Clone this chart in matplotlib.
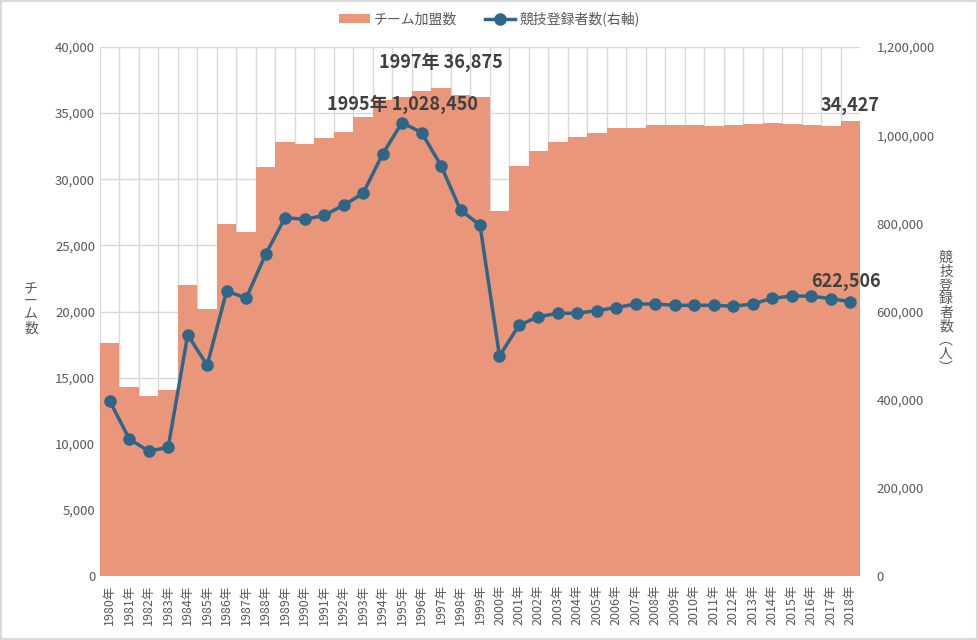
import numpy as np
import matplotlib
matplotlib.use("Agg")
import matplotlib.pyplot as plt
from matplotlib.patches import Rectangle
from matplotlib.ticker import FuncFormatter, MultipleLocator

plt.rcParams['font.family'] = ['Noto Sans CJK JP', 'DejaVu Sans']

# データ
years = list(range(1980, 2019))
labels = ["%d年" % y for y in years]
teams = [17600, 14300, 13600, 14100, 22000, 20200, 26600, 26000, 30900, 32800,
         32700, 33100, 33600, 34700, 36000, 36200, 36700, 36875, 36400, 36200,
         27600, 31000, 32100, 32800, 33200, 33500, 33900, 33900, 34100, 34100,
         34100, 34000, 34100, 34200, 34250, 34200, 34100, 34000, 34427]
players = [397000, 311000, 283000, 292000, 547000, 478000, 647000, 630000, 730000, 813000,
           809000, 818000, 841000, 868000, 957000, 1028450, 1006000, 931000, 830000, 796000,
           499000, 569000, 588000, 596000, 596000, 602000, 609000, 617000, 617000, 614000,
           614000, 614000, 612000, 617000, 630000, 635000, 635000, 629000, 622506]

bar_c = '#EA967A'
line_c = '#2F6688'
txt_c = '#595959'
grid_c = '#D9D9D9'

fig = plt.figure(figsize=(9.79, 6.4), dpi=100)
ax = fig.add_axes([100/979, 64/640, 760/979, 529/640])
ax2 = ax.twinx()

x = np.arange(len(years))
ax.bar(x, teams, width=1.0, color=bar_c, zorder=2, label='チーム加盟数')
ax.set_xlim(-0.5, len(years) - 0.5)
ax.set_ylim(0, 40000)
ax.yaxis.set_major_locator(MultipleLocator(5000))
ax.yaxis.set_major_formatter(FuncFormatter(lambda v, p: format(int(v), ',')))
# 縦のグリッドは区切り位置
ax.set_xticks(x - 0.5, minor=True)
ax.set_xticks(x)
ax.set_xticklabels(labels, rotation=90, fontsize=9, color=txt_c)
ax.grid(axis='y', color=grid_c, lw=1, zorder=0)
ax.grid(axis='x', which='minor', color=grid_c, lw=1, zorder=0)
ax.set_axisbelow(True)
ax.tick_params(axis='both', which='both', length=0, labelsize=9.5, colors=txt_c)
ax.tick_params(axis='x', labelsize=9, pad=6)
for s in ax.spines.values():
    s.set_visible(False)

ax2.plot(x, players, color=line_c, lw=2.5, marker='o', ms=8, zorder=3, label='競技登録者数(右軸)')
ax2.set_ylim(0, 1200000)
ax2.yaxis.set_major_locator(MultipleLocator(200000))
ax2.yaxis.set_major_formatter(FuncFormatter(lambda v, p: format(int(v), ',')))
ax2.tick_params(axis='y', length=0, labelsize=9.5, colors=txt_c, pad=12)
for s in ax2.spines.values():
    s.set_visible(False)

# 軸ラベル（縦書き）
fig.text(31/979, 1 - 308/640, '\n'.join('チーム数'), ha='center', va='center',
         fontsize=10, color=txt_c, linespacing=0.95)
fig.text(946/979, 1 - 313/640, '\n'.join(['競', '技', '登', '録', '者', '数', '︵', '人', '︶']),
         ha='center', va='center', fontsize=10, color=txt_c, linespacing=0.97)

# 注記
ann = dict(fontsize=13, fontweight='bold', color='#404040')
ax.text(17, 36875 + 1200, '1997年 36,875', ha='center', va='bottom', **ann)
ax2.text(15, 1028450 + 20000, '1995年 1,028,450', ha='center', va='bottom', **ann)
ax.text(38.0, 34427 + 400, '34,427', ha='center', va='bottom', **ann)
ax2.text(37.8, 622506 + 25000, '622,506', ha='center', va='bottom', **ann)

# 凡例
h1, l1 = ax.get_legend_handles_labels()
h2, l2 = ax2.get_legend_handles_labels()
fig.legend(h1 + h2, l1 + l2, loc='center', bbox_to_anchor=(0.5, 1 - 19/640), ncol=2,
           frameon=False, fontsize=10, labelcolor=txt_c, handlelength=2.2,
           columnspacing=2.0, handletextpad=0.3)

fig.patches.append(Rectangle((0.001, 0.001), 0.997, 0.997, transform=fig.transFigure,
                             fill=False, edgecolor=grid_c, lw=1.5))

fig.savefig('out.png', dpi=100)
